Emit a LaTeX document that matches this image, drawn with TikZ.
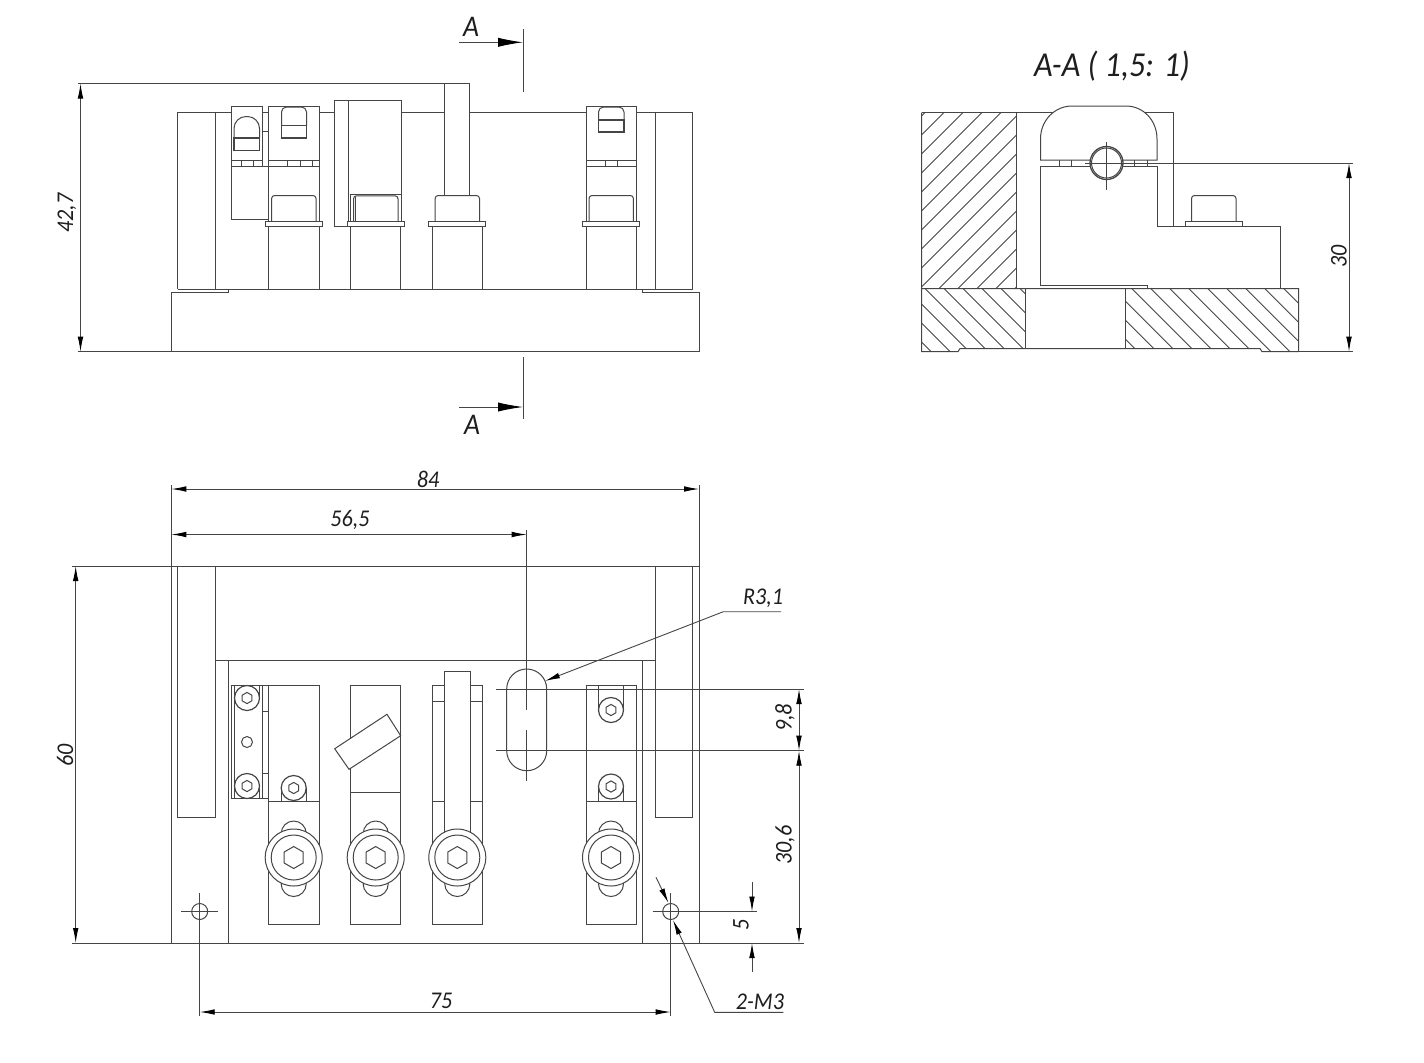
\documentclass[tikz,border=0pt]{standalone}
\usepackage{fontspec}
\setmainfont[FakeStretch=0.92]{Carlito}
\usetikzlibrary{arrows.meta}
\definecolor{ln}{HTML}{454545}
\definecolor{tx}{HTML}{1E1E1E}
\tikzset{
  part/.style={draw=ln,line width=0.5pt,line join=miter},
  thin part/.style={draw=ln,line width=0.42pt},
  dimline/.style={draw=ln,line width=0.45pt},
  dimboth/.style={dimline,{Latex[length=7.5pt,width=2.8pt,color=black]}-{Latex[length=7.5pt,width=2.8pt,color=black]}},
  dimone/.style={dimline,-{Latex[length=7.5pt,width=2.8pt,color=black]}},
  secarrow/.style={dimline,-{Latex[length=12.5pt,width=4.6pt,color=black]}},
  dimtext/.style={text=tx,font=\fontsize{12pt}{12pt}\selectfont\itshape,inner sep=0pt},
  titletext/.style={text=tx,font=\fontsize{17.5pt}{17.5pt}\selectfont\itshape,inner sep=0pt}
}
\newcommand{\bigscrew}[2]{%
  \draw[part,fill=white] (#1,#2) circle (28.5);
  \draw[part] (#1,#2) circle (22.5);
  \begin{scope}[shift={(#1,#2)}]
    \draw[part] (30:11) -- (90:11) -- (150:11) -- (210:11) -- (270:11) -- (330:11) -- cycle;
  \end{scope}}
\newcommand{\smallscrew}[2]{%
  \draw[part,fill=white,line width=0.6pt] (#1,#2) circle (12.5);
  \begin{scope}[shift={(#1,#2)}]
    \draw[part] (30:5.6) -- (90:5.6) -- (150:5.6) -- (210:5.6) -- (270:5.6) -- (330:5.6) -- cycle;
  \end{scope}}
\newcommand{\frontfoot}[1]{%
  \draw[part,rounded corners=1.5pt] (#1-22.2,221) -- (#1-22.2,195.5) -- (#1+22.2,195.5) -- (#1+22.2,221);
  \draw[part,fill=white] (#1-28.5,221) rectangle (#1+28.5,226.5);}
\begin{document}
\begin{tikzpicture}[x=0.5pt,y=-0.5pt]
\useasboundingbox (0,0) rectangle (1424,1062);
\fill[white] (0,0) rectangle (1424,1062);

%% ---------- FRONT VIEW ----------
\draw[part] (171.5,351.7) -- (171.5,292) -- (228,292) -- (228,289) -- (642.7,289) -- (642.7,292) -- (699,292) -- (699,351.7);
\draw[part] (177.5,289) -- (228,289);
\draw[part] (642.7,289) -- (692.7,289);
\draw[dimline] (78,351.7) -- (699,351.7);
\draw[part] (177.5,289) -- (177.5,112.7) -- (231,112.7);
\draw[part] (215,112.7) -- (215,289);
\draw[part] (262.5,112.7) -- (268.5,112.7);
\draw[part] (262.5,131) -- (268.5,131);
\draw[part] (319.3,112.7) -- (334,112.7);
\draw[part] (401,112.7) -- (444.5,112.7);
\draw[part] (469.5,112.7) -- (586,112.7);
\draw[part] (636.5,112.7) -- (692.7,112.7) -- (692.7,289);
\draw[part] (655,112.7) -- (655,289);
% clamp 1
\draw[part] (262.5,166) -- (262.5,106) -- (231,106) -- (231,219) -- (268.5,219);
\draw[part] (231,160) -- (262.5,160);
\draw[part] (231,166) -- (319.3,166);
\foreach \tx in {241,253}{\draw[thin part] (\tx,160) -- (\tx,166);}
\draw[part,rounded corners=6pt] (234,138) -- (234,116.5) -- (259.5,116.5) -- (259.5,138);
\draw[part,line width=0.65pt] (234,138) rectangle (259.5,150.5);
% clamp 2
\draw[part] (268.5,289) -- (268.5,106) -- (319.3,106) -- (319.3,289);
\draw[part] (268.5,160) -- (319.3,160);
\foreach \tx in {287,300,312.5}{\draw[thin part] (\tx,160) -- (\tx,166);}
\draw[part,rounded corners=2.5pt] (281.5,125.5) -- (281.5,107) -- (306.5,107) -- (306.5,125.5);
\draw[part,line width=0.65pt] (281.5,125.5) rectangle (306.5,138);
\frontfoot{293.8}
% clamp 3
\draw[part] (348,226.5) -- (334,226.5) -- (334,100.5) -- (401,100.5) -- (401,221);
\draw[part] (348,100.5) -- (348,221);
\draw[part,line width=0.65pt] (350.5,221) -- (350.5,194.5) -- (400.7,194.5);
\draw[part,rounded corners=1.5pt] (353.5,221) -- (353.5,195.8) -- (398,195.8) -- (398,221);
\draw[thin part] (355.3,221) -- (355.3,197);
\draw[part,fill=white] (347,221) rectangle (404,226.5);
\draw[part] (350.5,226.5) -- (350.5,289);
\draw[part] (400.7,226.5) -- (400.7,289);
% post
\draw[part] (444.5,195.5) -- (444.5,83.5);
\draw[part] (469.5,83.5) -- (469.5,195.5);
\frontfoot{457.3}
\draw[part] (432,226.5) -- (432,289);
\draw[part] (482.5,226.5) -- (482.5,289);
% right clamp
\draw[part] (586,289) -- (586,106) -- (636.5,106) -- (636.5,289);
\draw[part] (586,160) -- (636.5,160);
\draw[part] (586,166) -- (636.5,166);
\foreach \tx in {605,617.5}{\draw[thin part] (\tx,160) -- (\tx,166);}
\draw[part,rounded corners=2.5pt] (598.5,120) -- (598.5,107) -- (624,107) -- (624,120);
\draw[part,line width=0.65pt] (598.5,120) rectangle (624,132);
\frontfoot{611.2}
% 42,7 dimension
\draw[dimline] (78,83.5) -- (469.5,83.5);
\draw[dimboth] (80.5,83.5) -- (80.5,351.7);
\node[dimtext,rotate=90] (d427) at (67,213) {42,7};
% section marks
\draw[dimline] (523,29) -- (523,92);
\draw[dimline] (523,357) -- (523,419);
\coordinate (sa1) at (459,42.3);
\coordinate (sa2) at (523,42.3);
\coordinate (sb1) at (459,407);
\coordinate (sb2) at (523,407);
\draw[secarrow] (sa1) -- (sa2);
\draw[secarrow] (sb1) -- (sb2);
\node[dimtext,font=\fontsize{15pt}{15pt}\selectfont\itshape] (secA) at (471,27) {A};
\node[dimtext,font=\fontsize{15pt}{15pt}\selectfont\itshape] (secB) at (472,425) {A};

%% ---------- SECTION A-A ----------
\node[titletext] (title) at (1112,66) {A-A ( 1,5: 1)};
\begin{scope}
  \clip (921.5,112.5) rectangle (1016,288.5);
  \foreach \k in {-1,...,13}{
    \pgfmathsetmacro{\c}{1056.5+19*\k}
    \draw[thin part] ({\c-112.5},112.5) -- ({\c-288.5},288.5);
  }
\end{scope}
\begin{scope}
  \clip (921.5,288.5) -- (1025.5,288.5) -- (1025.5,348.5) -- (960,348.5) -- (958,351.7) -- (921.5,351.7) -- cycle;
  \foreach \k in {-4,...,5}{
    \pgfmathsetmacro{\c}{636.5+19*\k}
    \draw[thin part] ({\c+288.5},288.5) -- ({\c+351.7},351.7);
  }
\end{scope}
\begin{scope}
  \clip (1125.5,288.5) -- (1298.5,288.5) -- (1298.5,351.7) -- (1262,351.7) -- (1260,348.5) -- (1125.5,348.5) -- cycle;
  \foreach \k in {-4,...,9}{
    \pgfmathsetmacro{\c}{843.2+19*\k}
    \draw[thin part] ({\c+288.5},288.5) -- ({\c+351.7},351.7);
  }
\end{scope}
\draw[part] (921.5,112.5) -- (1173,112.5) -- (1173,226);
\draw[part] (921.5,112.5) -- (921.5,351.7) -- (958,351.7) -- (960,348.5) -- (1260,348.5) -- (1262,351.7) -- (1298.5,351.7) -- (1298.5,288.5) -- (921.5,288.5);
\draw[part] (1016,112.5) -- (1016,288.5);
\draw[part] (1025.5,288.5) -- (1025.5,348.5);
\draw[part] (1125.5,288.5) -- (1125.5,348.5);
% clamp body
\draw[part,fill=white] (1040.5,160) -- (1040.5,139) .. controls (1040.5,120) and (1055,106) .. (1072,106) -- (1126,106) .. controls (1143,106) and (1157,120) .. (1157,139) -- (1157,160) -- cycle;
\draw[part] (1040.5,166) -- (1157,166);
\draw[part] (1040.5,166) -- (1040.5,285.5) -- (1147,285.5) -- (1147,288.5);
\draw[part] (1157,166) -- (1157,226) -- (1280,226) -- (1280,288.5);
\foreach \tx in {1059,1071.5,1134.5,1147.5}{\draw[thin part] (\tx,160) -- (\tx,166);}
\draw[part,fill=white,line width=0.65pt] (1106.5,163) circle (16.5);
\draw[part] (1106.5,163) circle (15);
\draw[part,rounded corners=1.5pt] (1191.5,221) -- (1191.5,195.5) -- (1236,195.5) -- (1236,221);
\draw[part] (1185,221) rectangle (1242,226);
\draw[dimline] (1106.5,142) -- (1106.5,190);
\draw[dimline] (1085,163) -- (1353,163);
\draw[dimline] (1298.5,351.7) -- (1353,351.7);
\draw[dimboth] (1349,163) -- (1349,351.7);
\node[dimtext,rotate=90] (d30) at (1339,256) {30};

%% ---------- PLAN VIEW ----------
\draw[part] (177.5,566) -- (177.5,817.5) -- (215.5,817.5) -- (215.5,566);
\draw[part] (655,566) -- (655,817.5) -- (692.7,817.5) -- (692.7,566);
\draw[part] (215.5,660.7) -- (655,660.7);
\draw[part] (228,660.7) -- (228,943);
\draw[part] (642.7,660.7) -- (642.7,943);
\draw[part] (171.3,566) -- (692.7,566);
% left small clamp
\draw[part] (231,685.5) rectangle (268.5,798);
\draw[part] (234.3,685.5) -- (234.3,798);
\draw[part] (262.5,685.5) -- (262.5,798);
\draw[part] (259.5,685.5) -- (259.5,698);
\draw[part] (259.5,786) -- (259.5,798);
\draw[part] (262.5,711) -- (268.5,711);
\draw[part] (262.5,773.5) -- (268.5,773.5);
\smallscrew{247}{698}
\smallscrew{247}{786}
\draw[part] (247,742) circle (5.5);
% clamp A
\draw[part] (268.5,685.5) rectangle (319.3,924);
\draw[part] (268.5,801.5) -- (319.3,801.5);
\draw[part] (281,788) -- (281,801.5);
\draw[part] (306,788) -- (306,801.5);
\smallscrew{293.7}{788}
\draw[part] (293.7,833.5) circle (12.5);
\draw[part] (293.7,884) circle (12.5);
\bigscrew{293.7}{857.5}
% clamp B
\draw[part] (350.5,685.5) rectangle (400.7,924);
\draw[part] (350.5,792.5) -- (400.7,792.5);
\draw[part,fill=white] (387,714.3) -- (400.7,735.7) -- (349,769.3) -- (334.7,748.7) -- cycle;
\draw[part] (375.7,833.5) circle (12.5);
\draw[part] (375.7,884) circle (12.5);
\bigscrew{375.7}{857.5}
% clamp C
\draw[part] (432,685.5) rectangle (482.7,924);
\draw[part] (432,701.5) -- (482.7,701.5);
\draw[part] (432,801.5) -- (482.7,801.5);
\draw[part] (457.3,884) circle (12.5);
\draw[part,fill=white] (444.5,671.5) rectangle (470,835);
\bigscrew{457.3}{857.5}
% right clamp
\draw[part] (586,685.5) rectangle (636.5,924);
\draw[part] (586,801.5) -- (636.5,801.5);
\draw[part] (598.5,685.5) -- (598.5,710);
\draw[part] (623.5,685.5) -- (623.5,710);
\draw[part] (598.5,786.5) -- (598.5,801.5);
\draw[part] (623.5,786.5) -- (623.5,801.5);
\smallscrew{611}{710}
\smallscrew{611}{786.5}
\draw[part] (611,833.5) circle (12.5);
\draw[part] (611,884) circle (12.5);
\bigscrew{611}{857.5}
% slot
\draw[part,rounded corners=10pt] (506.7,669) rectangle (546.7,770.7);
% holes
\draw[part] (199.7,911.5) circle (8);
\draw[part] (670.7,911.5) circle (8);
\draw[dimline] (181,911.5) -- (218,911.5);
\draw[dimline] (652.7,911.5) -- (757,911.5);
\draw[dimline] (199.7,893) -- (199.7,1016);
\draw[dimline] (670.7,893) -- (670.7,1016);
% extension lines
\draw[dimline] (72,566) -- (699,566);
\draw[dimline] (72,943) -- (804,943);
\draw[dimline] (171.3,485) -- (171.3,943);
\draw[dimline] (699,485) -- (699,943);
\draw[dimline] (526.7,530) -- (526.7,710);
\draw[dimline] (526.7,730) -- (526.7,780.7);
\draw[dimline] (496,689) -- (804,689);
\draw[dimline] (496,750.7) -- (804,750.7);
% dimensions
\draw[dimboth] (171.3,489) -- (699,489);
\draw[dimboth] (171.3,534.5) -- (526.7,534.5);
\draw[dimboth] (75.7,566) -- (75.7,943);
\draw[dimboth] (199.7,1012) -- (670.7,1012);
\draw[dimboth] (799,689) -- (799,750.7);
\draw[dimboth] (799,750.7) -- (799,943);
\coordinate (f1) at (752,882);
\coordinate (f2) at (752,911.5);
\coordinate (f3) at (752,972);
\coordinate (f4) at (752,943);
\draw[dimone] (f1) -- (f2);
\draw[dimone] (f3) -- (f4);
\coordinate (r1) at (781,611.7);
\coordinate (r2) at (723.3,611.7);
\coordinate (r3) at (545,681);
\draw[dimone] (r1) -- (r2) -- (r3);
\coordinate (m1) at (783.3,1012.3);
\coordinate (m2) at (714.7,1012.3);
\coordinate (m3) at (673,920);
\coordinate (m4) at (656,877.3);
\coordinate (m5) at (668.5,903);
\draw[dimone] (m1) -- (m2) -- (m3);
\draw[dimone] (m4) -- (m5);
% texts
\node[dimtext] (t84) at (428,479) {84};
\node[dimtext] (t565) at (350,520) {56,5};
\node[dimtext,rotate=90] (t60) at (65,755) {60};
\node[dimtext] (t75) at (441,1001) {75};
\node[dimtext,rotate=90] (t98) at (785,718) {9,8};
\node[dimtext,rotate=90] (t306) at (785,845) {30,6};
\node[dimtext,rotate=90] (t5) at (741,925) {5};
\node[dimtext] (tr) at (763,598) {R3,1};
\node[dimtext] (tm) at (760,1002) {2-M3};
\end{tikzpicture}
\end{document}
